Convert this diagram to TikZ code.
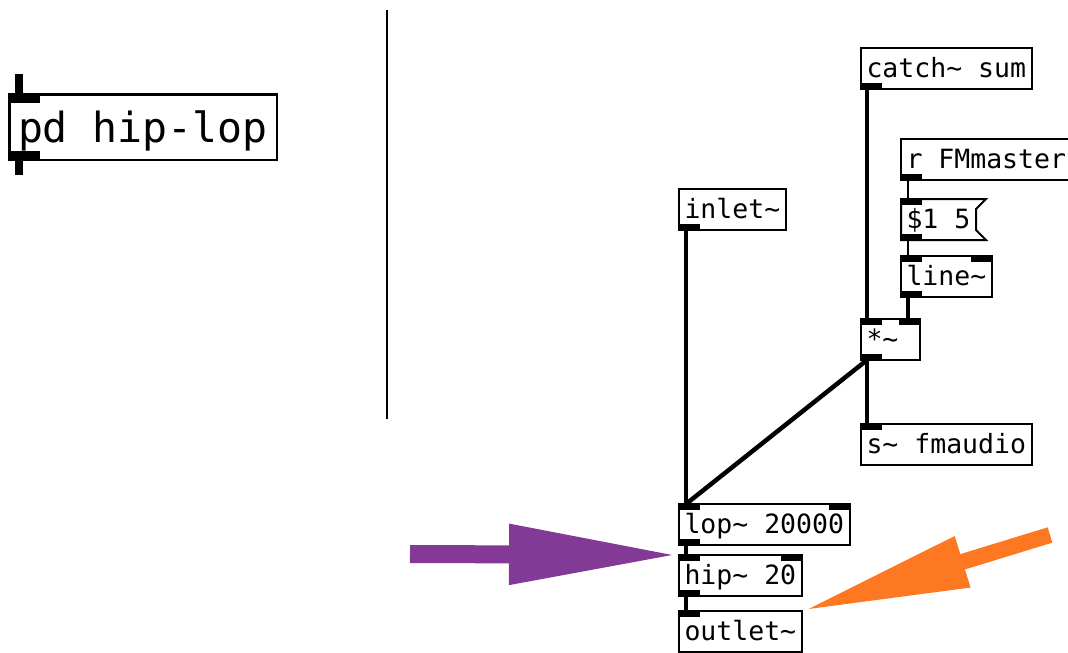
\documentclass[tikz,border=0pt]{standalone}
\usepackage{fontspec}
\newfontfamily\pdmono{DejaVu Sans Mono}
\usetikzlibrary{arrows.meta}
\definecolor{hintpurple}{RGB}{131,58,150}
\definecolor{hintorange}{RGB}{253,120,32}
\newcommand\tld{\textasciitilde}

\begin{document}
\begin{tikzpicture}[
  x=1pt,y=-1pt,
  obj/.style={draw,line width=2pt,fill=white,anchor=north west,outer sep=0pt,
    inner xsep=5.5pt,inner ysep=0pt,minimum height=41pt,text width=#1,align=flush left,
    text height=21pt,text depth=3pt,font=\pdmono\fontsize{26.5pt}{30pt}\selectfont},
  bigobj/.style={obj=#1,line width=2.5pt,inner xsep=8.75pt,minimum height=65.5pt,
    text height=34pt,text depth=4pt,font=\pdmono\fontsize{41.5pt}{46pt}\selectfont},
  sig/.style={line width=4.5pt},
  ctl/.style={line width=2pt},
  hint/.style={line width=#1,-{Triangle[length=170pt,width=56pt]}},
]
  \useasboundingbox (0,0) rectangle (1068,653);

  % parent view: the subpatch box
  \node[bigobj=250pt] (sub) at (9.25,94.25) {pd hip-lop};
  \coordinate (subtop) at (19,74);
  \coordinate (subbot) at (19,175);
  \draw[line width=8pt] (subtop) -- (subtop |- sub.north);
  \draw[line width=8pt] (subbot) -- (subbot |- sub.south);
  \fill (sub.north west) rectangle ++(31pt,-9pt);
  \fill (sub.south west) rectangle ++(31pt,9pt);

  \draw[line width=2.5pt] (387,10) -- (387,419);

  % inside the subpatch
  \node[obj=160pt] (catch) at (861,48) {catch\tld{} sum};
  \node[obj=160pt] (rfm) at (901,139) {r FMmaster};
  \node[obj=64pt,draw=none,fill=none] (msg) at (901,199) {\$1 5};
  \draw[line width=2pt] (msg.north west) -- ([xshift=10pt]msg.north east)
    -- ([yshift=-10pt]msg.north east) -- ([yshift=10pt]msg.south east)
    -- ([xshift=10pt]msg.south east) -- (msg.south west) -- cycle;
  \node[obj=80pt] (line) at (901,256) {line\tld};
  \node[obj=48pt] (mul) at (861,319) {*\tld};
  \node[obj=160pt] (sfm) at (861,424) {s\tld{} fmaudio};
  \node[obj=96pt] (inlet) at (679,189) {inlet\tld};
  \node[obj=160pt] (lop) at (679,504) {lop\tld{} 20000};
  \node[obj=112pt] (hip) at (679,555) {hip\tld{} 20};
  \node[obj=112pt] (outlet) at (679,611) {outlet\tld};

  % cords
  \draw[ctl] ([xshift=7pt]rfm.south west) -- ([xshift=7pt]msg.north west);
  \draw[ctl] ([xshift=7pt]msg.south west) -- ([xshift=7pt]line.north west);
  \draw[sig] ([xshift=6pt]catch.south west) -- ([xshift=6pt]mul.north west);
  \draw[sig] ([xshift=7pt]line.south west) -- ([xshift=-12pt]mul.north east);
  \draw[sig] ([xshift=6pt]mul.south west) -- ([xshift=6pt]sfm.north west);
  \draw[sig] ([xshift=6pt]mul.south west) -- ([xshift=7pt]lop.north west);
  \draw[sig] ([xshift=7pt]inlet.south west) -- ([xshift=7pt]lop.north west);
  \draw[sig] ([xshift=7pt]lop.south west) -- ([xshift=7pt]hip.north west);
  \draw[sig] ([xshift=7pt]hip.south west) -- ([xshift=7pt]outlet.north west);

  % inlets and outlets
  \foreach \n in {catch,rfm,msg,line,mul,inlet,lop,hip}
    \fill (\n.south west) rectangle ++(21pt,6pt);
  \foreach \n in {msg,line,mul,sfm,lop,hip,outlet}
    \fill (\n.north west) rectangle ++(21pt,-6pt);
  \foreach \n in {line,mul,lop,hip}
    \fill (\n.north east) rectangle ++(-21pt,-6pt);

  % pointers
  \coordinate (purpletail) at (410,554);
  \coordinate (orangetail) at (1050,535);
  \draw[hint=18pt,hintpurple] (purpletail) -- (hip.north west);
  \draw[hint=16pt,hintorange,-{Triangle[length=168pt,width=49pt]}] (orangetail) -- (outlet.north east);
\end{tikzpicture}
\end{document}
